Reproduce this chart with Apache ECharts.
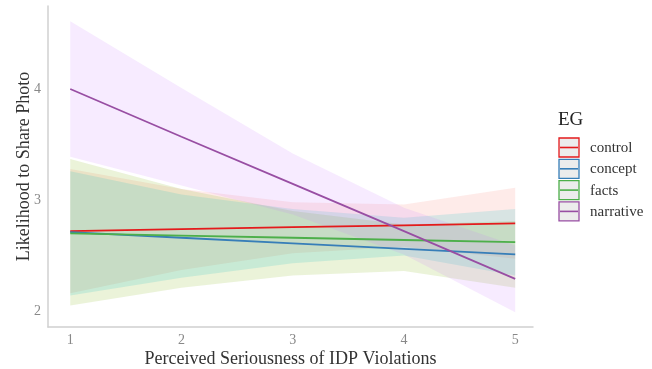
<!DOCTYPE html>
<html>
<head>
<meta charset="utf-8">
<script src="https://cdn.jsdelivr.net/npm/echarts@6/dist/echarts.min.js"></script>
<style>
  html, body { margin: 0; padding: 0; background: #fff; }
  #chart { width: 652px; height: 369px; }
</style>
</head>
<body>
<div id="chart"></div>
<script>
// Predicted likelihood by perceived seriousness, per experimental group
const seriousness = [1, 2, 3, 4, 5];
const groups = ['control', 'concept', 'facts', 'narrative'];

const controlFit   = [2.72, 2.737, 2.755, 2.772, 2.79];
const controlHigh  = [3.28, 3.10, 2.98, 2.96, 3.11];
const controlLow   = [2.16, 2.37, 2.52, 2.58, 2.47];

const conceptFit   = [2.71, 2.66, 2.61, 2.56, 2.51];
const conceptHigh  = [3.37, 3.10, 2.90, 2.78, 2.81];
const conceptLow   = [2.05, 2.21, 2.32, 2.36, 2.21];

const factsFit     = [2.70, 2.68, 2.66, 2.64, 2.62];
const factsHigh    = [3.26, 3.05, 2.92, 2.84, 2.92];
const factsLow     = [2.14, 2.30, 2.43, 2.50, 2.32];

const narrativeFit  = [4.00, 3.57, 3.145, 2.72, 2.29];
const narrativeHigh = [4.61, 4.01, 3.42, 2.93, 2.59];
const narrativeLow  = [3.39, 3.13, 2.87, 2.51, 1.99];

const xTicks = [1, 2, 3, 4, 5];
const yTicks = [2, 3, 4];

const fits  = [controlFit, conceptFit, factsFit, narrativeFit];
const highs = [controlHigh, conceptHigh, factsHigh, narrativeHigh];
const lows  = [controlLow, conceptLow, factsLow, narrativeLow];

const lineColors = ['#E41A1C', '#377EB8', '#4DAF4A', '#984EA3'];
const bandColors = [
  'rgba(248,118,109,0.15)',
  'rgba(124,174,0,0.15)',
  'rgba(0,191,196,0.15)',
  'rgba(199,124,255,0.15)'
];

const serif = 'Liberation Serif, Times New Roman, serif';

const series = [];

// confidence ribbons
groups.forEach((g, k) => {
  series.push({
    name: g + ' band',
    type: 'custom',
    z: 1,
    silent: true,
    data: [0],
    renderItem: function (params, api) {
      const pts = [];
      for (let i = 0; i < seriousness.length; i++) {
        pts.push(api.coord([seriousness[i], highs[k][i]]));
      }
      for (let i = seriousness.length - 1; i >= 0; i--) {
        pts.push(api.coord([seriousness[i], lows[k][i]]));
      }
      return {
        type: 'polygon',
        shape: { points: pts },
        style: { fill: bandColors[k], stroke: null }
      };
    }
  });
});

// fitted lines
groups.forEach((g, k) => {
  series.push({
    name: g,
    type: 'line',
    z: 5,
    symbol: 'none',
    silent: true,
    lineStyle: { color: lineColors[k], width: 1.8 },
    data: seriousness.map((x, i) => [x, fits[k][i]])
  });
});

// legend keys
const legendItems = [];
legendItems.push({
  type: 'text',
  left: 558, top: 111,
  style: { text: 'EG', font: '19px ' + serif, fill: '#222' }
});
groups.forEach((g, k) => {
  const y = 138 + k * 21.3;
  legendItems.push({
    type: 'rect',
    shape: { x: 559, y: y, width: 20, height: 19 },
    style: { fill: '#ececec', stroke: lineColors[k], lineWidth: 1.3 }
  });
  legendItems.push({
    type: 'line',
    shape: { x1: 560, y1: y + 9.5, x2: 578, y2: y + 9.5 },
    style: { stroke: lineColors[k], lineWidth: 1.6 }
  });
  legendItems.push({
    type: 'text',
    x: 590, y: y + 10,
    style: { text: g, font: '15px ' + serif, fill: '#333', verticalAlign: 'middle' }
  });
});

const chart = echarts.init(document.getElementById('chart'), null, { renderer: 'canvas' });
chart.setOption({
  animation: false,
  backgroundColor: '#ffffff',
  grid: { left: 48, top: 6, right: 119, bottom: 42, containLabel: false, outerBoundsMode: 'none' },
  xAxis: {
    type: 'value',
    min: 0.80,
    max: 5.16,
    name: 'Perceived Seriousness of IDP Violations',
    nameLocation: 'middle',
    nameGap: 23,
    nameMoveOverlap: false,
    nameTextStyle: { fontFamily: serif, fontSize: 18, color: '#333', verticalAlign: 'top' },
    axisLine: { show: true, lineStyle: { color: '#d0d0d0', width: 1.5 } },
    axisTick: { show: false },
    splitLine: { show: false },
    axisLabel: {
      customValues: xTicks,
      margin: 6,
      fontFamily: serif,
      fontSize: 14,
      color: '#888',
      verticalAlign: 'top'
    }
  },
  yAxis: {
    type: 'value',
    min: 1.856,
    max: 4.748,
    name: 'Likelihood to Share Photo',
    nameLocation: 'middle',
    nameGap: 15,
    nameMoveOverlap: false,
    nameTextStyle: { fontFamily: serif, fontSize: 18, color: '#333' },
    axisLine: { show: true, lineStyle: { color: '#d0d0d0', width: 1.5 } },
    axisTick: { show: false },
    splitLine: { show: false },
    axisLabel: {
      customValues: yTicks,
      margin: 7,
      fontFamily: serif,
      fontSize: 14,
      color: '#888'
    }
  },
  graphic: legendItems,
  series: series
});
</script>
</body>
</html>
